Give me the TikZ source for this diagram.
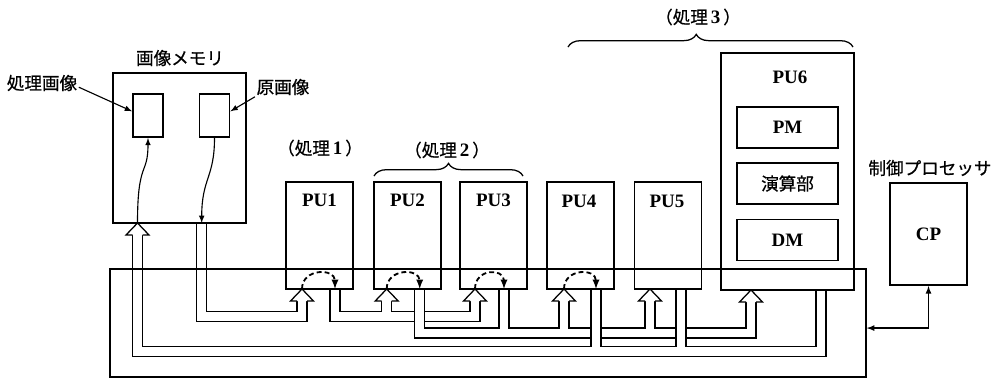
\documentclass[tikz,border=0pt]{standalone}
\usepackage{fontspec}
\setmainfont{Liberation Serif}
\newfontfamily\jp[FakeBold=0.6]{Noto Sans CJK JP}
\usetikzlibrary{decorations.pathreplacing}

\newcommand{\pipehead}[1]{\filldraw[fill=white,line width=0.9pt] (#1) ++(-5,12) -- ++(-6.5,0) -- ++(11.5,-12) -- ++(11.5,12) -- ++(-6.5,0);}
\newcommand{\shori}[1]{{\jp （処理}\,{\fontsize{13.5}{15}\selectfont\bfseries #1}\,{\jp ）}}

\begin{document}
\fontsize{12.5}{15}\selectfont
\begin{tikzpicture}[x=0.25mm,y=-0.25mm,
  box/.style={draw,line width=1.3pt,inner sep=0pt},
  pubox/.style={box,minimum width=16.75mm,minimum height=26.75mm},
  subbox/.style={box,minimum width=25.25mm,minimum height=10.25mm},
  pipe/.style={line width=0.9pt,double,double distance=6.2pt},
  flow/.style={line width=1.3pt,dash pattern=on 3.5pt off 2.2pt,-latex},
  wire/.style={line width=0.8pt,-latex},
  lbl/.style={font=\fontsize{13.5}{15}\selectfont\bfseries,inner sep=1pt},
  jlbl/.style={font=\jp,inner sep=1pt},
  brace/.style={decorate,decoration={brace,amplitude=9pt},line width=0.9pt}]
\useasboundingbox (0,0) rectangle (998,380);

% ports at the bottom of the boxes
\coordinate (mout) at (201.7,223);
\coordinate (min) at (137.5,223);
\coordinate (i1) at (302,289);   \coordinate (o1) at (335,289);
\coordinate (i2) at (386.7,289); \coordinate (o2) at (419.7,289);
\coordinate (i3) at (475,289);   \coordinate (o3) at (504,289);
\coordinate (i4) at (564,289);   \coordinate (o4) at (596,289);
\coordinate (i5) at (650,289);   \coordinate (o5) at (681,289);
\coordinate (i6) at (751,290);   \coordinate (o6) at (821,290);

% pipes
\draw[pipe] (mout) -- ++(0,93.7) -| ([yshift=-8.5pt]i1);
\draw[pipe] (o1) -- ++(0,27.5) -| ([yshift=-8.5pt]i3)
  ([yshift=-8.5pt]i2) -- ++(0,15.5);
\draw[pipe] (o2) -- ++(0,44) -| ([yshift=-8.5pt]i6)
  (o3) -- ++(0,44) ([yshift=-8.5pt]i4) -- ++(0,32) ([yshift=-8.5pt]i5) -- ++(0,32);
\draw[pipe] (o6) -- ++(0,61.7) -| ([yshift=-8.5pt]min)
  (o4) -- ++(0,62.7) (o5) -- ++(0,62.7);
\pipehead{min}
\pipehead{i1} \pipehead{i2} \pipehead{i3}
\pipehead{i4} \pipehead{i5} \pipehead{i6}

% image memory
\node[box,minimum width=33.25mm,minimum height=37.5mm] (mem) at (179.5,148) {};
\node[box,minimum width=7.5mm,minimum height=10.75mm] (imgL) at (148,115.5) {};
\node[box,minimum width=7.5mm,minimum height=10.75mm] (imgR) at (214.5,115.5) {};
\node[jlbl] (memt) at (180,58) {画像メモリ};
\node[jlbl] (l1) at (42,83) {処理画像};
\node[jlbl] (l2) at (283,87) {原画像};
\draw[wire] ([yshift=-3pt]l1.east) -- ([yshift=3pt]imgL.west);
\draw[wire] (l2.south west) -- ([yshift=3pt]imgR.east);
\draw[wire] (min) .. controls +(0,-63) and +(0,38) .. (imgL.south);
\draw[wire] (imgR.south) .. controls +(0,40) and +(0,-45) .. (mout);

% processing units
\node[pubox] (pu1) at (319.5,235.5) {};
\node[pubox] (pu2) at (407.5,235.5) {};
\node[pubox] (pu3) at (493.5,235.5) {};
\node[pubox] (pu4) at (580.5,235.5) {};
\node[pubox] (pu5) at (668,235.5) {};
\node[lbl] (pu1t) at (319.5,200) {PU1};
\node[lbl] (pu2t) at (407.5,200) {PU2};
\node[lbl] (pu3t) at (493.5,200) {PU3};
\node[lbl] (pu4t) at (579,201) {PU4};
\node[lbl] (pu5t) at (667,201) {PU5};

\node[box,minimum width=33.25mm,minimum height=59.25mm] (pu6) at (787.5,171.5) {};
\node[lbl] (pu6t) at (790,77) {PU6};
\node[subbox,lbl] (pm) at (787.5,127.5) {PM};
\node[subbox,jlbl] (alu) at (787.5,183.5) {演算部};
\node[subbox,lbl] (dm) at (787.5,240) {DM};

% control processor
\node[box,lbl,minimum width=19.25mm,minimum height=25.5mm] (cp) at (928.5,234) {CP};
\node[jlbl] (cpt) at (930,168) {制御プロセッサ};

% switching bus
\node[draw,line width=1pt,inner sep=0pt,minimum width=189mm,minimum height=27mm] (bus) at (488,323) {};
\draw[latex-latex,line width=0.9pt] ([yshift=-3.6pt]bus.east) -| (cp.south);

% data flow inside the units
\draw[flow] (i1) .. controls +(0,-21) and +(0,-21) .. (o1);
\draw[flow] (i2) .. controls +(0,-21) and +(0,-21) .. (o2);
\draw[flow] (i3) .. controls +(0,-21) and +(0,-21) .. (o3);
\draw[flow] (i4) .. controls +(0,-21) and +(0,-21) .. (o4);

% processing stages
\node (s1) at (320,148) {\shori{1}};
\node (s2) at (447,150) {\shori{2}};
\node (s3) at (698,17) {\shori{3}};
\draw[brace] (374,176) -- (523,176);
\draw[brace,decoration={aspect=0.45}] (568,47) -- (853,47);
\end{tikzpicture}
\end{document}
